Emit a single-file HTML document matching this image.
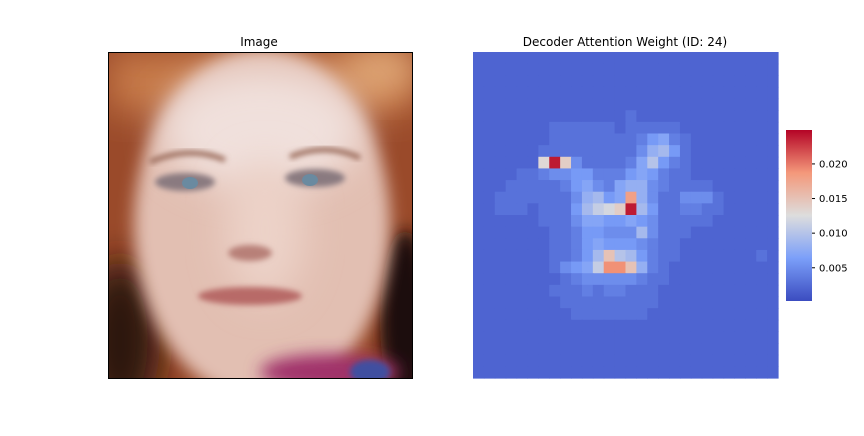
<!DOCTYPE html>
<html><head><meta charset="utf-8"><style>
body{margin:0;background:#fff;width:864px;height:432px;overflow:hidden;font-family:"DejaVu Sans","Liberation Sans",sans-serif}
</style></head><body>
<svg width="864" height="432" xmlns="http://www.w3.org/2000/svg">
<defs>
<filter id="b8" x="-50%" y="-50%" width="200%" height="200%"><feGaussianBlur stdDeviation="8"/></filter>
<filter id="b3" x="-50%" y="-50%" width="200%" height="200%"><feGaussianBlur stdDeviation="3"/></filter>
<filter id="b20" x="-50%" y="-50%" width="200%" height="200%"><feGaussianBlur stdDeviation="18"/></filter>
<clipPath id="imgclip"><rect x="108" y="52" width="304" height="326"/></clipPath>
<linearGradient id="cbgrad" x1="0" y1="1" x2="0" y2="0">
<stop offset="0" stop-color="#3b4cc0"/><stop offset="0.25" stop-color="#7b9ff9"/><stop offset="0.5" stop-color="#dddddd"/><stop offset="0.75" stop-color="#f4987a"/><stop offset="1" stop-color="#b40426"/>
</linearGradient>
</defs>
<text x="259" y="46" text-anchor="middle" font-size="12">Image</text>
<g clip-path="url(#imgclip)">
<rect x="108" y="52" width="304" height="326" fill="#9a4a2a"/>
<rect x="108" y="52" width="304" height="60" fill="#c87a4a" filter="url(#b20)"/>
<ellipse cx="120" cy="340" rx="40" ry="80" fill="#2a1410" filter="url(#b20)"/>
<ellipse cx="405" cy="320" rx="25" ry="90" fill="#1a0c08" filter="url(#b8)"/>
<ellipse cx="380" cy="70" rx="40" ry="25" fill="#e0a878" filter="url(#b20)"/>
<ellipse cx="262" cy="225" rx="128" ry="175" fill="#e2bfb2" filter="url(#b8)"/>
<ellipse cx="262" cy="130" rx="100" ry="60" fill="#f0e0dc" filter="url(#b20)"/>
<ellipse cx="265" cy="230" rx="40" ry="70" fill="#ecd2c8" filter="url(#b20)"/>
<ellipse cx="185" cy="182" rx="30" ry="9" fill="#8a7a80" filter="url(#b3)"/>
<ellipse cx="315" cy="178" rx="30" ry="9" fill="#8a7a80" filter="url(#b3)"/>
<ellipse cx="190" cy="183" rx="8" ry="6" fill="#6a8aa0"/>
<ellipse cx="310" cy="180" rx="8" ry="6" fill="#6a8aa0"/>
<path d="M150 162 Q190 145 225 160" stroke="#9a6a5a" stroke-width="5" fill="none" filter="url(#b3)"/>
<path d="M290 157 Q325 142 360 158" stroke="#9a6a5a" stroke-width="5" fill="none" filter="url(#b3)"/>
<ellipse cx="250" cy="253" rx="22" ry="8" fill="#b88078" filter="url(#b3)"/>
<ellipse cx="250" cy="296" rx="52" ry="9" fill="#b86a68" filter="url(#b3)"/>
<ellipse cx="330" cy="372" rx="70" ry="18" fill="#a0306a" filter="url(#b8)"/>
<ellipse cx="370" cy="372" rx="20" ry="12" fill="#4050a0" filter="url(#b3)"/>
</g>
<rect x="108.5" y="52.5" width="304" height="326" fill="none" stroke="#000" stroke-width="1"/>
<text x="625" y="46" text-anchor="middle" font-size="12">Decoder Attention Weight (ID: 24)</text>
<g id="heat"></g>
<rect x="786" y="130" width="26" height="171" fill="url(#cbgrad)"/>
<g id="cbticks"></g>
</svg>
<script>
const NS="http://www.w3.org/2000/svg";
// values in units of 0.001
const heatValues=[
[2,2,2,2,2,2,2,2,2,2,2,2,2,2,2,2,2,2,2,2,2,2,2,2,2,2,2,2],
[2,2,2,2,2,2,2,2,2,2,2,2,2,2,2,2,2,2,2,2,2,2,2,2,2,2,2,2],
[2,2,2,2,2,2,2,2,2,2,2,2,2,2,2,2,2,2,2,2,2,2,2,2,2,2,2,2],
[2,2,2,2,2,2,2,2,2,2,2,2,2,2,2,2,2,2,2,2,2,2,2,2,2,2,2,2],
[2,2,2,2,2,2,2,2,2,2,2,2,2,2,2,2,2,2,2,2,2,2,2,2,2,2,2,2],
[2,2,2,2,2,2,2,2,2,2,2,2,2,2,3,2,2,2,2,2,2,2,2,2,2,2,2,2],
[2,2,2,2,2,2,2,3,3,3,3,3,3,2,3,3,3,3,3,2,2,2,2,2,2,2,2,2],
[2,2,2,2,2,2,2,3,3,3,3,3,3,3,3,4,6,7,4,3,2,2,2,2,2,2,2,2],
[2,2,2,2,2,2,3,3,3,3,3,3,3,3,3,5,8,9,6,3,2,2,2,2,2,2,2,2],
[2,2,2,2,2,2,13,24,14,5,3,3,3,3,4,7,10,6,4,3,2,2,2,2,2,2,2,2],
[2,2,2,2,3,3,4,5,5,6,6,4,4,4,6,7,6,4,3,3,2,2,2,2,2,2,2,2],
[2,2,2,3,3,3,3,3,4,6,7,5,4,7,8,8,5,4,3,3,3,3,2,2,2,2,2,2],
[2,2,3,3,3,3,3,3,3,5,8,9,6,7,18,8,5,3,3,5,5,5,3,2,2,2,2,2],
[2,2,3,3,3,2,3,3,3,6,9,11,12,14,24,9,6,3,3,4,4,3,3,2,2,2,2,2],
[2,2,2,2,2,2,3,3,3,5,7,7,6,6,7,6,5,3,3,3,3,3,2,2,2,2,2,2],
[2,2,2,2,2,2,2,3,3,4,6,6,5,5,5,9,5,3,3,3,2,2,2,2,2,2,2,2],
[2,2,2,2,2,2,2,3,3,4,6,7,6,6,6,5,4,3,3,2,2,2,2,2,2,2,2,2],
[2,2,2,2,2,2,2,3,3,4,6,9,15,10,9,6,4,3,3,2,2,2,2,2,2,2,3,2],
[2,2,2,2,2,2,2,3,5,6,7,11,19,19,15,8,4,3,2,2,2,2,2,2,2,2,2,2],
[2,2,2,2,2,2,2,2,3,4,5,5,5,5,5,4,3,3,2,2,2,2,2,2,2,2,2,2],
[2,2,2,2,2,2,2,3,3,3,4,3,4,4,3,3,3,2,2,2,2,2,2,2,2,2,2,2],
[2,2,2,2,2,2,2,2,3,3,3,3,3,3,3,3,3,2,2,2,2,2,2,2,2,2,2,2],
[2,2,2,2,2,2,2,2,2,3,3,3,3,3,3,3,2,2,2,2,2,2,2,2,2,2,2,2],
[2,2,2,2,2,2,2,2,2,2,2,2,2,2,2,2,2,2,2,2,2,2,2,2,2,2,2,2],
[2,2,2,2,2,2,2,2,2,2,2,2,2,2,2,2,2,2,2,2,2,2,2,2,2,2,2,2],
[2,2,2,2,2,2,2,2,2,2,2,2,2,2,2,2,2,2,2,2,2,2,2,2,2,2,2,2],
[2,2,2,2,2,2,2,2,2,2,2,2,2,2,2,2,2,2,2,2,2,2,2,2,2,2,2,2],
[2,2,2,2,2,2,2,2,2,2,2,2,2,2,2,2,2,2,2,2,2,2,2,2,2,2,2,2]
];
const cbTickValues=[0.005,0.010,0.015,0.020];
const cbTickLabels=["0.005","0.010","0.015","0.020"];
const vmin=0.0002,vmax=0.0249;
const hx=473,hy=52,hw=305,hh=326;
const stops=[[59,76,192],[123,159,249],[221,221,221],[244,152,122],[180,4,38]];
function cmap(v){let t=Math.max(0,Math.min(1,(v-vmin)/(vmax-vmin)))*4;let i=Math.min(3,Math.floor(t));let f=t-i;
const a=stops[i],b=stops[i+1];return `rgb(${a.map((c,k)=>Math.round(c+(b[k]-c)*f)).join(",")})`;}
const rows=heatValues.length,cols=heatValues[0].length;
const xs=c=>hx+c*hw/cols, ys=r=>hy+r*hh/rows;
const g=document.getElementById("heat");
heatValues.forEach((row,r)=>row.forEach((v,c)=>{
const el=document.createElementNS(NS,"rect");
el.setAttribute("x",xs(c));el.setAttribute("y",ys(r));
el.setAttribute("width",hw/cols+0.6);el.setAttribute("height",hh/rows+0.6);
el.setAttribute("fill",cmap(v*0.001));


g.appendChild(el);}));
const cb=document.getElementById("cbticks");
const cy=v=>301-(v-vmin)/(vmax-vmin)*171;
cbTickValues.forEach((v,i)=>{
const l=document.createElementNS(NS,"line");
l.setAttribute("x1",812);l.setAttribute("x2",815);l.setAttribute("y1",cy(v));l.setAttribute("y2",cy(v));l.setAttribute("stroke","#000");


cb.appendChild(l);
const t=document.createElementNS(NS,"text");
t.setAttribute("x",819);t.setAttribute("y",cy(v)+3.5);t.setAttribute("font-size","10");t.textContent=cbTickLabels[i];


cb.appendChild(t);});
</script>
</body></html>
